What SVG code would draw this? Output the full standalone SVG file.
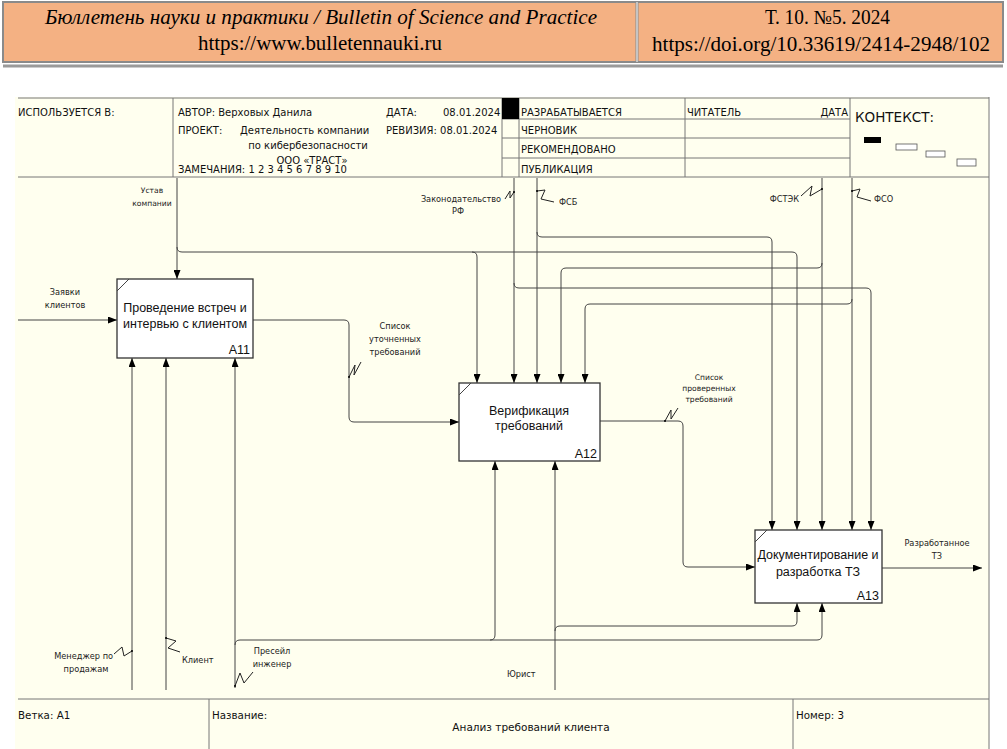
<svg xmlns="http://www.w3.org/2000/svg" width="1007" height="749" viewBox="0 0 1007 749">
<style>
.hdr{font-family:"Liberation Serif",serif;font-size:20px;fill:#000}
.frm{font-family:"DejaVu Sans","Liberation Sans",sans-serif;font-size:10px;fill:#111}
.bot{font-family:"DejaVu Sans","Liberation Sans",sans-serif;font-size:10.3px;fill:#111}
.ctx{font-family:"DejaVu Sans","Liberation Sans",sans-serif;font-size:13.5px;fill:#111}
.box{fill:#fff;stroke:#333;stroke-width:1.3}
.bt{font-family:"Liberation Sans",Arial,sans-serif;font-size:12.5px;fill:#111;text-anchor:middle}
.bn{font-family:"Liberation Sans",Arial,sans-serif;font-size:12.5px;fill:#111;text-anchor:end}
.lb{font-family:"DejaVu Sans","Liberation Sans",sans-serif;font-size:8.2px;fill:#222}
.sm{font-size:7.6px}
.c{text-anchor:middle}
.ln{fill:none;stroke:#444;stroke-width:1}
.sq{fill:none;stroke:#222;stroke-width:1}
.fl{stroke:#777;stroke-width:1;fill:none}
</style>
<defs>
<marker id="arr" markerUnits="userSpaceOnUse" markerWidth="9" markerHeight="7" viewBox="0 0 9 7" refX="9" refY="3.5" orient="auto">
<path d="M0,0 L9,3.5 L0,7 z" fill="#000"/>
</marker>
</defs>
<rect width="1007" height="749" fill="#fff"/>
<g id="header">
<rect x="3" y="2" width="1000" height="60" fill="#F4B183" stroke="#8a8a8a" stroke-width="2"/>
<line x1="637" y1="2" x2="637" y2="62" stroke="#8a8a8a" stroke-width="3"/>
<line x1="637" y1="2" x2="637" y2="62" stroke="#fff" stroke-width="1"/>
<line x1="3" y1="66" x2="1003" y2="66" stroke="#9a9a9a" stroke-width="3"/>
<text class="hdr" x="45" y="24" font-style="italic" textLength="552" lengthAdjust="spacingAndGlyphs">Бюллетень науки и практики / Bulletin of Science and Practice</text>
<text class="hdr" x="198" y="50" textLength="244" lengthAdjust="spacingAndGlyphs">https://www.bulletennauki.ru</text>
<text class="hdr" x="765" y="24" textLength="125" lengthAdjust="spacingAndGlyphs">Т. 10. №5. 2024</text>
<text class="hdr" x="652" y="51" textLength="338" lengthAdjust="spacingAndGlyphs">https://doi.org/10.33619/2414-2948/102</text>
</g>
<g id="frame">
<rect x="15" y="97" width="974" height="652" fill="#FFFFEF"/>
<line class="fl" x1="18" y1="98" x2="989" y2="98"/>
<line class="fl" x1="18" y1="177" x2="989" y2="177"/>
<line class="fl" x1="989" y1="97" x2="989" y2="749"/>
<line class="fl" x1="173" y1="98" x2="173" y2="177"/>
<line class="fl" x1="502" y1="98" x2="502" y2="177"/>
<line class="fl" x1="519" y1="98" x2="519" y2="177"/>
<line class="fl" x1="685" y1="98" x2="685" y2="177"/>
<line class="fl" x1="850" y1="98" x2="850" y2="177"/>
<line class="fl" x1="502" y1="119" x2="850" y2="119"/>
<line class="fl" x1="502" y1="138" x2="850" y2="138"/>
<line class="fl" x1="502" y1="158" x2="850" y2="158"/>
<rect x="502" y="98" width="17" height="21" fill="#000"/>
<text class="frm" x="18" y="116">ИСПОЛЬЗУЕТСЯ В:</text>
<text class="frm" x="178" y="116">АВТОР: Верховых Данила</text>
<text class="frm" x="386" y="116">ДАТА:</text>
<text class="frm" x="443" y="116">08.01.2024</text>
<text class="frm" x="178" y="134">ПРОЕКТ:</text>
<text class="frm" x="240" y="134">Деятельность компании</text>
<text class="frm" x="308" y="149" text-anchor="middle">по кибербезопасности</text>
<text class="frm" x="312" y="164" text-anchor="middle">ООО «ТРАСТ»</text>
<text class="frm" x="178" y="173">ЗАМЕЧАНИЯ: 1 2 3 4 5 6 7 8 9 10</text>
<text class="frm" x="386" y="134">РЕВИЗИЯ: 08.01.2024</text>
<text class="frm" x="521" y="116">РАЗРАБАТЫВАЕТСЯ</text>
<text class="frm" x="521" y="134">ЧЕРНОВИК</text>
<text class="frm" x="521" y="153">РЕКОМЕНДОВАНО</text>
<text class="frm" x="521" y="173">ПУБЛИКАЦИЯ</text>
<text class="frm" x="687" y="116">ЧИТАТЕЛЬ</text>
<text class="frm" x="848" y="116" text-anchor="end">ДАТА</text>
<text class="ctx" x="855" y="122">КОНТЕКСТ:</text>
<rect x="864" y="137" width="17" height="6" fill="#000"/>
<rect x="896" y="144" width="21" height="6" fill="#fff" stroke="#555" stroke-width="0.8"/>
<rect x="926" y="151" width="19" height="6" fill="#fff" stroke="#555" stroke-width="0.8"/>
<rect x="957" y="159" width="19" height="7" fill="#fff" stroke="#555" stroke-width="0.8"/>
<line class="fl" x1="18" y1="699" x2="989" y2="699"/>
<line class="fl" x1="209" y1="699" x2="209" y2="749"/>
<line class="fl" x1="793" y1="699" x2="793" y2="749"/>
<text class="bot" x="18" y="719">Ветка: A1</text>
<text class="bot" x="212" y="719">Название:</text>
<text class="bot" x="531" y="731" text-anchor="middle" style="font-size:10.5px">Анализ требований клиента</text>
<text class="bot" x="796" y="719">Номер: 3</text>
</g>
<g id="connectors">
<path class="ln" d="M18,320 H117" marker-end="url(#arr)"/>
<path class="ln" d="M177,178 V279" marker-end="url(#arr)"/>
<path class="ln" d="M177,247 q0,5 5,5 H792 q5,0 5,5 V530" marker-end="url(#arr)"/>
<path class="ln" d="M472,252 q5,0 5,5 V383" marker-end="url(#arr)"/>
<path class="ln" d="M514,178 V383" marker-end="url(#arr)"/>
<path class="ln" d="M514,283 q0,5 5,5 H866 q5,0 5,5 V530" marker-end="url(#arr)"/>
<path class="ln" d="M537,178 V383" marker-end="url(#arr)"/>
<path class="ln" d="M537,232 q0,5 5,5 H767 q5,0 5,5 V530" marker-end="url(#arr)"/>
<path class="ln" d="M822,178 V530" marker-end="url(#arr)"/>
<path class="ln" d="M822,263 q0,5 -5,5 H566 q-5,0 -5,5 V383" marker-end="url(#arr)"/>
<path class="ln" d="M852,178 V530" marker-end="url(#arr)"/>
<path class="ln" d="M852,299 q0,5 -5,5 H590 q-5,0 -5,5 V383" marker-end="url(#arr)"/>
<path class="ln" d="M253,320 H344 q5,0 5,5 V417 q0,5 5,5 H459" marker-end="url(#arr)"/>
<path class="ln" d="M600,421 H678 q5,0 5,5 V562 q0,5 5,5 H755" marker-end="url(#arr)"/>
<path class="ln" d="M882,568 H982" marker-end="url(#arr)"/>
<path class="ln" d="M132,690 V358" marker-end="url(#arr)"/>
<path class="ln" d="M166,690 V358" marker-end="url(#arr)"/>
<path class="ln" d="M235,688 V358" marker-end="url(#arr)"/>
<path class="ln" d="M235,645 q0,-5 5,-5 H817 q5,0 5,-5 V603" marker-end="url(#arr)"/>
<path class="ln" d="M490,640 q5,0 5,-5 V461" marker-end="url(#arr)"/>
<path class="ln" d="M555,690 V461" marker-end="url(#arr)"/>
<path class="ln" d="M555,631 q0,-5 5,-5 H792 q5,0 5,-5 V603" marker-end="url(#arr)"/>
<polyline class="sq" points="505,199 510,191 510,198 514,192"/>
<polyline class="sq" points="537,191 545,190 541,199 554,202"/>
<polyline class="sq" points="801,196 812,186 810,196 822,189"/>
<polyline class="sq" points="852,191 860,189 857,197 871,201"/>
<polyline class="sq" points="349,377 355,365 354,375 361,362"/>
<polyline class="sq" points="665,421 671,410 671,419 678,408"/>
<polyline class="sq" points="114,654 122,647 124,656 132,651"/>
<polyline class="sq" points="166,638 176,641 168,648 180,652"/>
<polyline class="sq" points="235,686 240,673 244,683 253,672"/>
<circle cx="514" cy="192" r="1" fill="#000"/>
<circle cx="537" cy="191" r="1" fill="#000"/>
<circle cx="822" cy="189" r="1" fill="#000"/>
<circle cx="852" cy="191" r="1" fill="#000"/>
<circle cx="349" cy="377" r="1" fill="#000"/>
<circle cx="665" cy="421" r="1" fill="#000"/>
<circle cx="132" cy="651" r="1" fill="#000"/>
<circle cx="166" cy="638" r="1" fill="#000"/>
<circle cx="235" cy="686" r="1" fill="#000"/>
<text class="lb c sm" x="152" y="193">Устав</text>
<text class="lb c sm" x="152" y="206">компании</text>
<text class="lb c" x="65" y="295">Заявки</text>
<text class="lb c" x="65" y="308">клиентов</text>
<text class="lb c" x="461" y="202">Законодательство</text>
<text class="lb c" x="458" y="214">РФ</text>
<text class="lb" x="559" y="205">ФСБ</text>
<text class="lb" x="799" y="202" text-anchor="end">ФСТЭК</text>
<text class="lb" x="874" y="202">ФСО</text>
<text class="lb c" x="395" y="329">Список</text>
<text class="lb c" x="395" y="342">уточненных</text>
<text class="lb c" x="395" y="355">требований</text>
<text class="lb c sm" x="709" y="380">Список</text>
<text class="lb c sm" x="709" y="391">проверенных</text>
<text class="lb c sm" x="709" y="402">требований</text>
<text class="lb c" x="937" y="546">Разработанное</text>
<text class="lb c" x="937" y="559">ТЗ</text>
<text class="lb" x="113" y="659" text-anchor="end">Менеджер по</text>
<text class="lb c" x="86" y="672">продажам</text>
<text class="lb" x="182" y="663">Клиент</text>
<text class="lb c" x="272" y="654">Пресейл</text>
<text class="lb c" x="272" y="667">инженер</text>
<text class="lb" x="507" y="677">Юрист</text>
</g>
<g id="A11">
<rect class="box" x="117" y="279" width="136" height="79"/>
<line class="ln" x1="117" y1="291" x2="129" y2="279"/>
<text class="bt" x="185" y="312">Проведение встреч и</text>
<text class="bt" x="185" y="328">интервью с клиентом</text>
<text class="bn" x="250" y="354">A11</text>
</g>
<g id="A12">
<rect class="box" x="459" y="383" width="141" height="78"/>
<line class="ln" x1="459" y1="395" x2="471" y2="383"/>
<text class="bt" x="529" y="415">Верификация</text>
<text class="bt" x="529" y="430">требований</text>
<text class="bn" x="597" y="458">A12</text>
</g>
<g id="A13">
<rect class="box" x="755" y="530" width="127" height="73"/>
<line class="ln" x1="755" y1="542" x2="767" y2="530"/>
<text class="bt" x="818" y="559">Документирование и</text>
<text class="bt" x="818" y="576">разработка ТЗ</text>
<text class="bn" x="879" y="600">A13</text>
</g>
</svg>
